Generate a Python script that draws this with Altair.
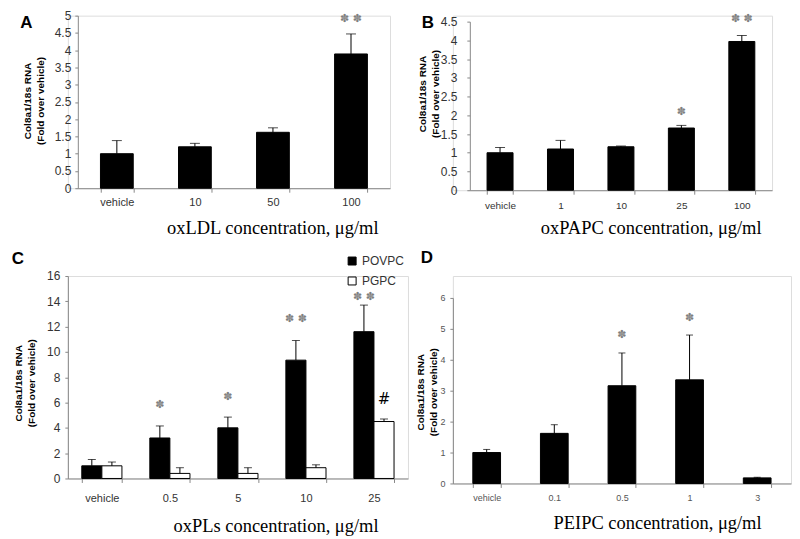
import altair as alt
import pandas as pd

SANS = "Liberation Sans"
SERIF = "Liberation Serif"
STAR1 = "✽"
STAR2 = "✽ ✽"
YTITLE = ["Col8a1/18s RNA", "(Fold over vehicle)"]
GRAY = "#808080"

# ---------------- Panel A : oxLDL ----------------
a_cats = ["vehicle", "10", "50", "100"]
a_vals = [1.0, 1.2, 1.62, 3.89]
a_errs = [1.38, 1.3, 1.75, 4.47]
a_sig = ["", "", "", STAR2]
a_sig_y = [0, 0, 0, 4.91]
a_ticks = [0, 0.5, 1, 1.5, 2, 2.5, 3, 3.5, 4, 4.5, 5]

# ---------------- Panel B : oxPAPC ----------------
b_cats = ["vehicle", "1", "10", "25", "100"]
b_vals = [1.0, 1.1, 1.16, 1.66, 3.97]
b_errs = [1.14, 1.33, 1.18, 1.73, 4.13]
b_sig = ["", "", "", STAR1, STAR2]
b_sig_y = [0, 0, 0, 2.1, 4.58]
b_ticks = [0, 0.5, 1, 1.5, 2, 2.5, 3, 3.5, 4, 4.5]

# ---------------- Panel C : oxPLs ----------------
c_cats = ["vehicle", "0.5", "5", "10", "25"]
c_series = ["POVPC", "PGPC"]
c_povpc = [1.0, 3.2, 4.0, 9.35, 11.6]
c_povpc_err = [1.5, 4.15, 4.85, 10.9, 13.7]
c_povpc_sig = ["", STAR1, STAR1, STAR2, STAR2]
c_povpc_sig_y = [0, 5.77, 6.43, 12.6, 14.3]
c_pgpc = [1.0, 0.4, 0.4, 0.85, 4.5]
c_pgpc_err = [1.3, 0.85, 0.85, 1.08, 4.7]
c_pgpc_sig = ["", "", "", "", "#"]
c_pgpc_sig_y = [0, 0, 0, 0, 6.3]
c_ticks = [0, 2, 4, 6, 8, 10, 12, 14, 16]

# ---------------- Panel D : PEIPC ----------------
d_cats = ["vehicle", "0.1", "0.5", "1", "3"]
d_vals = [1.0, 1.62, 3.16, 3.35, 0.18]
d_errs = [1.1, 1.9, 4.22, 4.8, 0.2]
d_sig = ["", "", STAR1, STAR1, ""]
d_sig_y = [0, 0, 4.8, 5.35, 0]
d_ticks = [0, 1, 2, 3, 4, 5, 6]


def y_axis(ticks, titleX, titleY, labelSize=12, titleSize=10, labelPad=4,
           offset=0, labelColor="#333"):
    return alt.Axis(values=ticks, format="~g", grid=False,
                    title=YTITLE, titleFont=SANS, titleFontSize=titleSize,
                    titleFontWeight="bold", titleColor="black",
                    titleX=titleX, titleY=titleY, titleAngle=270,
                    titleAlign="center", titleBaseline="bottom",
                    titleLineHeight=13,
                    labelFont=SANS, labelFontSize=labelSize, labelColor=labelColor,
                    labelPadding=labelPad, tickSize=3, tickColor="#888",
                    domainColor="#888", offset=offset)


def x_axis(title, titleX, titleY, labelSize=11, labelPad=5, labelColor="#333"):
    return alt.Axis(title=title, titleFont=SERIF, titleFontSize=18.5,
                    titleFontWeight="normal", titleColor="black",
                    titleX=titleX, titleY=titleY, titleAlign="right",
                    titleBaseline="middle",
                    labelFont=SANS, labelFontSize=labelSize, labelColor=labelColor,
                    labelAngle=0, labelPadding=labelPad, tickBand="extent",
                    tickSize=4, tickColor="#888", domainColor="#888", grid=False)


def sig_colors(sig):
    return ["black" if s == "#" else GRAY for s in sig]


def sig_sizes(sig):
    return [15 if s == "#" else 11 for s in sig]


def simple_panel(cats, vals, errs, sig, sig_y, width, height, ydom,
                 yrange, xrange, pad_inner, cap, xax, yax, letter, lx, ly):
    df = pd.DataFrame({"cat": cats, "val": vals, "err": errs,
                       "sig": sig, "sigy": sig_y,
                       "sigc": sig_colors(sig), "sigs": sig_sizes(sig)})
    if xrange is not None:
        xs = alt.Scale(paddingInner=pad_inner, paddingOuter=pad_inner / 2, range=xrange)
    else:
        xs = alt.Scale(paddingInner=pad_inner, paddingOuter=pad_inner / 2)
    if yrange is not None:
        ys = alt.Scale(domain=ydom, nice=False, zero=True, range=yrange)
    else:
        ys = alt.Scale(domain=ydom, nice=False, zero=True)
    X = alt.X("cat:N", sort=cats, scale=xs, axis=xax)

    def Y(field):
        return alt.Y(field, type="quantitative", scale=ys, axis=yax, title=YTITLE)

    base = alt.Chart(df)
    bars = base.mark_bar(color="black", stroke="black", strokeWidth=1).encode(x=X, y=Y("val"))
    rule = base.mark_rule(color="black", strokeWidth=1).encode(x=X, y=Y("val"), y2="err:Q")
    capm = base.mark_tick(color="black", thickness=1, size=cap).encode(x=X, y=Y("err"))
    sigm = base.mark_text(font="DejaVu Sans", baseline="middle").encode(
        x=X, y=Y("sigy"), text="sig:N",
        color=alt.Color("sigc:N", scale=None), size=alt.Size("sigs:Q", scale=None))
    let = alt.Chart(pd.DataFrame({"t": [letter]})).mark_text(
        font=SANS, fontSize=17, fontWeight="bold", color="black",
        align="center", baseline="middle").encode(
        x=alt.value(lx), y=alt.value(ly), text="t:N")
    return alt.layer(bars, rule, capm, sigm, let).properties(width=width, height=height)


A = simple_panel(a_cats, a_vals, a_errs, a_sig, a_sig_y, 323, 173, [0, 5],
                 None, [10, 323], 0.58, 10,
                 x_axis("oxLDL concentration, μg/ml", 311, 39, 11, 4.5),
                 y_axis(a_ticks, -45, 85, offset=-10),
                 "A", -41.5, 7.5)

B = simple_panel(b_cats, b_vals, b_errs, b_sig, b_sig_y, 320, 175, [0, 4.5],
                 [175, 6], [17, 320], 0.57, 10,
                 x_axis("oxPAPC concentration, μg/ml", 309, 37, 10, 6),
                 y_axis(b_ticks, -42, 78, labelPad=10, offset=-17),
                 "B", -25, 7)

# ---- panel C (grouped)
c_sig_all = c_povpc_sig + c_pgpc_sig
c_df = pd.DataFrame({
    "cat": c_cats + c_cats,
    "series": [c_series[0]] * 5 + [c_series[1]] * 5,
    "val": c_povpc + c_pgpc,
    "err": c_povpc_err + c_pgpc_err,
    "sig": c_sig_all,
    "sigy": c_povpc_sig_y + c_pgpc_sig_y,
    "sigc": sig_colors(c_sig_all),
    "sigs": sig_sizes(c_sig_all),
})
c_xax = x_axis("oxPLs concentration, μg/ml", 311, 47, 11, 10)
c_yax = y_axis(c_ticks, -44, 107, labelPad=5)
c_ys = alt.Scale(domain=[0, 16], nice=False, zero=True)
cX = alt.X("cat:N", sort=c_cats, scale=alt.Scale(paddingInner=0.41, paddingOuter=0.205), axis=c_xax)
cO = alt.XOffset("series:N", sort=c_series, scale=alt.Scale(paddingInner=0, paddingOuter=0))


def cY(field):
    return alt.Y(field, type="quantitative", scale=c_ys, axis=c_yax, title=YTITLE)


c_base = alt.Chart(c_df)
c_bars = c_base.mark_bar(stroke="black", strokeWidth=1).encode(
    x=cX, xOffset=cO, y=cY("val"),
    fill=alt.Fill("series:N", sort=c_series,
                  scale=alt.Scale(domain=c_series, range=["black", "white"]),
                  legend=alt.Legend(orient="none", legendX=279, legendY=-21, title=None,
                                    symbolType="square", symbolSize=64,
                                    symbolStrokeColor="black", symbolStrokeWidth=1,
                                    labelFont=SANS, labelFontSize=12, labelColor="#333",
                                    rowPadding=8, padding=0, labelOffset=4)))
c_rule = c_base.mark_rule(color="black", strokeWidth=1).encode(
    x=cX, xOffset=cO, y=cY("val"), y2="err:Q")
c_cap = c_base.mark_tick(color="black", thickness=1, size=8).encode(
    x=cX, xOffset=cO, y=cY("err"))
c_sig = c_base.mark_text(font="DejaVu Sans", baseline="middle").encode(
    x=cX, xOffset=cO, y=cY("sigy"), text="sig:N",
    color=alt.Color("sigc:N", scale=None), size=alt.Size("sigs:Q", scale=None))
c_let = alt.Chart(pd.DataFrame({"t": ["C"]})).mark_text(
    font=SANS, fontSize=17, fontWeight="bold", color="black",
    align="center", baseline="middle").encode(x=alt.value(-50), y=alt.value(-17), text="t:N")
C = alt.layer(c_bars, c_rule, c_cap, c_sig, c_let).properties(width=341, height=203)

D = simple_panel(d_cats, d_vals, d_errs, d_sig, d_sig_y, 339, 208, [0, 6],
                 [208, 22], None, 0.59, 7,
                 x_axis("PEIPC concentration, μg/ml", 309, 39, 9, 6.5, "#555"),
                 y_axis(d_ticks, -27, 116, labelSize=9, labelPad=5, labelColor="#555"),
                 "D", -26, -18)

chart = alt.concat(A, B, C, D, columns=2, spacing={"row": 86, "column": 45},
                   bounds="flush").resolve_legend(fill="independent").properties(
    padding={"left": 3, "top": 0, "right": 0, "bottom": 0}
).configure_view(strokeWidth=0, stroke="transparent").configure(background="white")

chart.save("out.html", embed_options={"renderer": "svg", "actions": False})
